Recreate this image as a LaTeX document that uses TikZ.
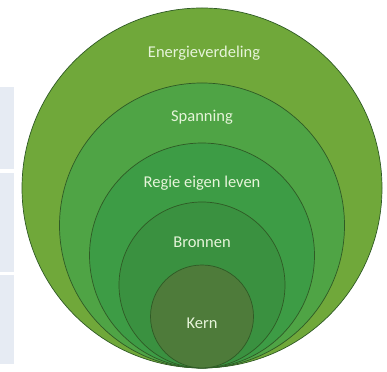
\documentclass[tikz,border=0pt]{standalone}
\usepackage{fontspec}
\setmainfont{Carlito}
\definecolor{c1}{HTML}{70A83A}
\definecolor{c2}{HTML}{4FA445}
\definecolor{c3}{HTML}{3D9C45}
\definecolor{c4}{HTML}{3A9140}
\definecolor{c5}{HTML}{4E7B3A}
\definecolor{ring}{HTML}{2F5A25}
\definecolor{txt}{HTML}{E6F4DA}
\definecolor{panel}{HTML}{E6EBF3}
\begin{document}
\begin{tikzpicture}[x=1pt,y=1pt,
  disc/.style={circle,inner sep=0pt,draw=ring,line width=0.7pt},
  lbl/.style={text=txt,font=\fontsize{16.5}{19}\selectfont},
  panelbox/.style={fill=panel,draw=none}]
\useasboundingbox (0,0) rectangle (387,371);
% left panels
\fill[panel] (0,371-169) rectangle (14,371-87);
\fill[panel] (0,371-272) rectangle (14,371-173);
\fill[panel] (0,371-364) rectangle (14,371-275);
% circles
\node[disc,fill=c1,minimum size=360pt] (e) at (202,183) {};
\node[disc,fill=c2,minimum size=285pt] (s) at (202,145.5) {};
\node[disc,fill=c3,minimum size=225pt] (r) at (202,115.5) {};
\node[disc,fill=c4,minimum size=166pt] (b) at (202,86) {};
\node[disc,fill=c5,minimum size=103pt] (k) at (202,54.5) {};
% labels
\node[lbl] (te) at (204,318) {Energieverdeling};
\node[lbl] (ts) at (202,254) {Spanning};
\node[lbl] (tr) at (202,188) {Regie eigen leven};
\node[lbl] (tb) at (202,129) {Bronnen};
\node[lbl] (tk) at (202,48) {Kern};
\end{tikzpicture}
\end{document}
